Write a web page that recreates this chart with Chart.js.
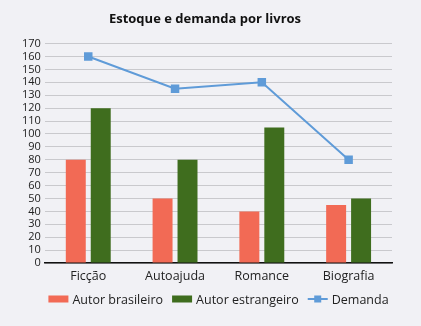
<!DOCTYPE html>
<html>
<head>
<meta charset="utf-8">
<script src="https://cdn.jsdelivr.net/npm/chart.js@4/dist/chart.umd.min.js"></script>
<style>
  html, body { margin: 0; padding: 0; background: #f1f1f5; }
  #wrap { width: 421px; height: 326px; }
</style>
</head>
<body>
<div id="wrap"><canvas id="c" width="421" height="326"></canvas></div>
<script>
const categories = ['Ficção', 'Autoajuda', 'Romance', 'Biografia'];
const autorBrasileiro = [80, 50, 40, 45];
const autorEstrangeiro = [120, 80, 105, 50];
const demanda = [160, 135, 140, 80];
const yTicks = [0, 10, 20, 30, 40, 50, 60, 70, 80, 90, 100, 110, 120, 130, 140, 150, 160, 170];

const RED = '#f26a55';
const GREEN = '#3f6d1e';
const BLUE = '#5f9bd8';
const FONT = "'Open Sans', 'Noto Sans', sans-serif";

// Legend drawn below the axis: bar swatches first, then the line-with-marker sample
const bottomLegend = {
  id: 'bottomLegend',
  afterDraw(chart) {
    const ctx = chart.ctx;
    const y = 299;
    const items = chart.data.datasets.map(ds => ({
      label: ds.label, type: ds.type || 'bar',
      color: ds.type === 'line' ? ds.borderColor : ds.backgroundColor
    }));
    items.sort((a, b) => (a.type === 'line') - (b.type === 'line'));
    ctx.save();
    ctx.font = '12.5px ' + FONT;
    ctx.textBaseline = 'middle';
    const sw = 20, gap = 4, spacing = 9;
    let total = 0;
    items.forEach((it, i) => {
      total += sw + gap + ctx.measureText(it.label).width + (i < items.length - 1 ? spacing : 0);
    });
    let x = (chart.width - total) / 2 + 8;
    items.forEach(it => {
      if (it.type === 'line') {
        ctx.strokeStyle = it.color; ctx.lineWidth = 2;
        ctx.beginPath(); ctx.moveTo(x, y); ctx.lineTo(x + sw, y); ctx.stroke();
        ctx.fillStyle = it.color;
        ctx.fillRect(x + sw / 2 - 3.5, y - 3.5, 7, 7);
      } else {
        ctx.fillStyle = it.color;
        ctx.fillRect(x, y - 3.5, sw, 7);
      }
      x += sw + gap;
      ctx.fillStyle = '#222';
      ctx.fillText(it.label, x, y + 1);
      x += ctx.measureText(it.label).width + spacing;
    });
    ctx.restore();
  }
};

new Chart(document.getElementById('c'), {
  data: {
    labels: categories,
    datasets: [
      {
        type: 'line', label: 'Demanda', data: demanda,
        borderColor: BLUE, backgroundColor: BLUE, borderWidth: 2,
        pointStyle: 'rect', pointRadius: 4.6, pointHoverRadius: 4.6,
        tension: 0, order: 0
      },
      {
        type: 'bar', label: 'Autor brasileiro', data: autorBrasileiro,
        backgroundColor: RED, barPercentage: 0.8, categoryPercentage: 0.575, order: 1
      },
      {
        type: 'bar', label: 'Autor estrangeiro', data: autorEstrangeiro,
        backgroundColor: GREEN, barPercentage: 0.8, categoryPercentage: 0.575, order: 1
      }
    ]
  },
  options: {
    responsive: false,
    animation: false,
    layout: { padding: { left: 18, right: 29, top: 4, bottom: 36 } },
    plugins: {
      legend: { display: false },
      tooltip: { enabled: false },
      title: {
        display: true, text: 'Estoque e demanda por livros',
        color: '#111', font: { family: FONT, size: 13, weight: 'bold' },
        padding: { top: 7, bottom: 17 }
      }
    },
    scales: {
      x: {
        grid: { display: false, drawTicks: false },
        border: { display: true, color: '#111', width: 1.5 },
        ticks: { color: '#222', font: { family: FONT, size: 12.5 }, padding: 6 }
      },
      y: {
        min: 0, max: 170,
        afterBuildTicks(axis) { axis.ticks = yTicks.map(v => ({ value: v })); },
        grid: { color: '#c9c9cd', lineWidth: 1, drawTicks: false },
        border: { display: false },
        ticks: { color: '#222', font: { family: FONT, size: 11 }, padding: 4, autoSkip: false }
      }
    }
  },
  plugins: [bottomLegend]
});
</script>
</body>
</html>
